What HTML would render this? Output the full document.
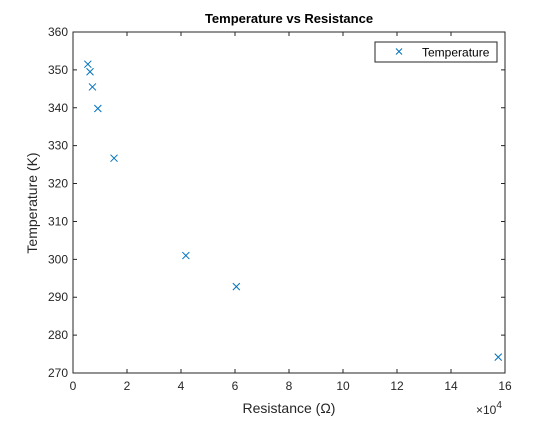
<!DOCTYPE html>
<html><head><meta charset="utf-8"><style>
html,body{margin:0;padding:0;background:#fff;}
svg text{font-family:"Liberation Sans",Arial,sans-serif;}
</style></head><body>
<svg id="chart" width="560" height="420" viewBox="0 0 560 420" xmlns="http://www.w3.org/2000/svg">
<rect x="0" y="0" width="560" height="420" fill="#fff"/>
<rect x="73" y="32" width="432" height="341" fill="#fff"/>
<g id="ticks"></g>
<g id="marks"></g>
<rect x="73" y="32" width="432" height="341" fill="none" stroke="#262626" stroke-width="1"/>
<text x="289" y="23" text-anchor="middle" font-size="13" font-weight="bold" fill="#000">Temperature vs Resistance</text>
<text x="289" y="413" text-anchor="middle" font-size="14" fill="#262626">Resistance (Ω)</text>
<text x="0" y="0" transform="translate(37,203) rotate(-90)" text-anchor="middle" font-size="14" fill="#262626">Temperature (K)</text>
<text x="476" y="414" font-size="12" fill="#262626">×10<tspan dy="-6" font-size="10">4</tspan></text>
<g>
<rect x="375" y="42" width="122" height="20" fill="#fff" stroke="#262626" stroke-width="1"/>
<path d="M396,48.5 l6,6 M402,48.5 l-6,6" stroke="#0072BD" stroke-width="1"/>
<text x="422" y="56.5" font-size="12" fill="#000">Temperature</text>
</g>
</svg>
<script>
const resistance = [0.55, 0.63, 0.72, 0.92, 1.52, 4.18, 6.05, 15.75];
const temperature = [351.5, 349.5, 345.5, 339.8, 326.7, 301, 292.8, 274.2];
const xTicks = [0, 2, 4, 6, 8, 10, 12, 14, 16];
const yTicks = [270, 280, 290, 300, 310, 320, 330, 340, 350, 360];

const L = 73, R = 505, T = 32, B = 373;
const xMin = 0, xMax = 16, yMin = 270, yMax = 360;
function xs(v){ return L + (v - xMin) / (xMax - xMin) * (R - L); }
function ys(v){ return B - (v - yMin) / (yMax - yMin) * (B - T); }
const NS = "http://www.w3.org/2000/svg";
const tg = document.getElementById('ticks');
const mg = document.getElementById('marks');

xTicks.forEach(t => {
  const x = xs(t);
  const p = document.createElementNS(NS, 'path');
  p.setAttribute('d', `M${x},${B} v-4 M${x},${T} v4`);
  p.setAttribute('stroke', '#262626');
  
  
  tg.appendChild(p);
  const tx = document.createElementNS(NS, 'text');
  tx.setAttribute('x', x);
  tx.setAttribute('y', B + 17);
  tx.setAttribute('text-anchor', 'middle');
  tx.setAttribute('font-size', '12');
  tx.setAttribute('fill', '#262626');
  tx.textContent = t;
  
  
  tg.appendChild(tx);
});
yTicks.forEach(t => {
  const y = ys(t);
  const p = document.createElementNS(NS, 'path');
  p.setAttribute('d', `M${L},${y} h4 M${R},${y} h-4`);
  p.setAttribute('stroke', '#262626');
  
  
  tg.appendChild(p);
  const tx = document.createElementNS(NS, 'text');
  tx.setAttribute('x', L - 5);
  tx.setAttribute('y', y + 4);
  tx.setAttribute('text-anchor', 'end');
  tx.setAttribute('font-size', '12');
  tx.setAttribute('fill', '#262626');
  tx.textContent = t;
  
  
  tg.appendChild(tx);
});
resistance.forEach((r, i) => {
  const x = xs(r), y = ys(temperature[i]);
  const p = document.createElementNS(NS, 'path');
  p.setAttribute('d', `M${x-3.5},${y-3.5} L${x+3.5},${y+3.5} M${x+3.5},${y-3.5} L${x-3.5},${y+3.5}`);
  p.setAttribute('stroke', '#0072BD');
  p.setAttribute('stroke-width', '1');
  p.setAttribute('fill', 'none');
  
  
  mg.appendChild(p);
});
</script>
</body></html>
